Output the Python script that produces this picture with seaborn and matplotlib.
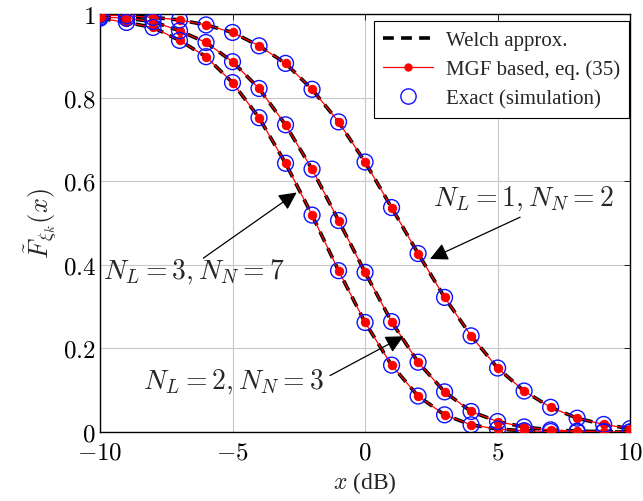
import numpy as np
import pandas as pd
import matplotlib
matplotlib.use("Agg")
import matplotlib.pyplot as plt
import seaborn as sns
from matplotlib.lines import Line2D

x_db = list(range(-10, 11))
f_1_2 = [0.997, 0.996, 0.992, 0.986, 0.974, 0.956, 0.924, 0.882, 0.820, 0.742, 0.646,
         0.537, 0.427, 0.322, 0.230, 0.153, 0.098, 0.059, 0.033, 0.018, 0.008]
f_2_3 = [0.993, 0.990, 0.982, 0.960, 0.932, 0.886, 0.822, 0.735, 0.629, 0.506, 0.382,
         0.264, 0.167, 0.096, 0.049, 0.025, 0.012, 0.005, 0.002, 0.001, 0.000]
f_3_7 = [0.990, 0.980, 0.968, 0.937, 0.898, 0.836, 0.752, 0.643, 0.519, 0.386, 0.262,
         0.160, 0.086, 0.041, 0.017, 0.007, 0.003, 0.001, 0.000, 0.000, 0.000]
curve_names = ["N_L=1,N_N=2", "N_L=2,N_N=3", "N_L=3,N_N=7"]
xticks = [-10, -5, 0, 5, 10]
yticks = [0, 0.2, 0.4, 0.6, 0.8, 1]
ytick_labels = ["0", "0.2", "0.4", "0.6", "0.8", "1"]

df = pd.concat([pd.DataFrame({"x": x_db, "F": v, "curve": n})
                for v, n in zip([f_1_2, f_2_3, f_3_7], curve_names)])

sns.set_theme(style="whitegrid")
plt.rcParams["font.family"] = ["Liberation Serif", "DejaVu Serif"]
plt.rcParams["mathtext.fontset"] = "cm"

fig = plt.figure(figsize=(6.43, 5.02), dpi=100)
ax = fig.add_axes([0.1555, 0.1375, 0.8245, 0.8325])

for n in curve_names:
    d = df[df.curve == n]
    sns.lineplot(data=d, x="x", y="F", ax=ax, color="black", lw=2.6,
                 linestyle=(0, (3, 2)), zorder=2, legend=False)
    sns.lineplot(data=d, x="x", y="F", ax=ax, color="red", lw=0.9,
                 marker="o", markersize=6, markeredgecolor="red", zorder=3, legend=False)
    sns.scatterplot(data=d, x="x", y="F", ax=ax, s=130, facecolor="none",
                    edgecolor="#1010ff", linewidth=1.0, zorder=4, legend=False)

ax.set_xlim(-10, 10)
ax.set_ylim(0, 1)
ax.set_xticks(xticks)
ax.set_yticks(yticks)
ax.set_xticklabels([f"${t}$" for t in xticks], fontsize=18)
ax.set_yticklabels([f"${t}$" for t in ytick_labels], fontsize=18)
ax.tick_params(axis="both", direction="in", length=4, width=0.6, top=True, right=True,
               colors="black")
ax.tick_params(axis="x", pad=7)
ax.tick_params(axis="y", pad=3)
ax.grid(True, color="#c8c8c8", lw=0.8)
for s in ax.spines.values():
    s.set_color("black")
    s.set_linewidth(1.0)
ax.set_xlabel("$x$ (dB)", fontsize=17, labelpad=4)
ax.set_ylabel(r"$\tilde{F}_{\xi_k}(x)$", fontsize=19, labelpad=2)

handles = [
    Line2D([], [], color="black", lw=2.6, linestyle=(0, (3, 2))),
    Line2D([], [], color="red", lw=0.9, marker="o", markersize=5),
    Line2D([], [], color="none", marker="o", markersize=11, markerfacecolor="none",
           markeredgecolor="#1010ff", markeredgewidth=1.0),
]
labels = ["Welch approx.", "MGF based, eq. (35)", "Exact (simulation)"]
leg = ax.legend(handles, labels, loc="upper right", fontsize=15, frameon=True,
                fancybox=False, edgecolor="black", framealpha=1, borderpad=0.45,
                handlelength=2.4, labelspacing=0.45, handletextpad=0.6,
                borderaxespad=0.0, bbox_to_anchor=(0.998, 0.983))
leg.get_frame().set_linewidth(0.8)

ap = dict(arrowstyle="-|>,head_length=0.9,head_width=0.45", color="black", lw=0.9,
          shrinkA=0, shrinkB=0)
ax.annotate("", xy=(2.45, 0.414), xytext=(5.85, 0.514), arrowprops=ap, zorder=6)
ax.text(5.96, 0.56, "$N_L = 1, N_N = 2$", fontsize=20, ha="center", va="center", zorder=6)
ax.annotate("", xy=(-2.58, 0.573), xytext=(-6.1, 0.416), arrowprops=ap, zorder=6)
ax.text(-6.45, 0.385, "$N_L = 3, N_N = 7$", fontsize=20, ha="center", va="center", zorder=6)
ax.annotate("", xy=(1.45, 0.229), xytext=(-1.32, 0.135), arrowprops=ap, zorder=6)
ax.text(-4.98, 0.122, "$N_L = 2, N_N = 3$", fontsize=20, ha="center", va="center", zorder=6)

fig.savefig("out.png", dpi=100)
